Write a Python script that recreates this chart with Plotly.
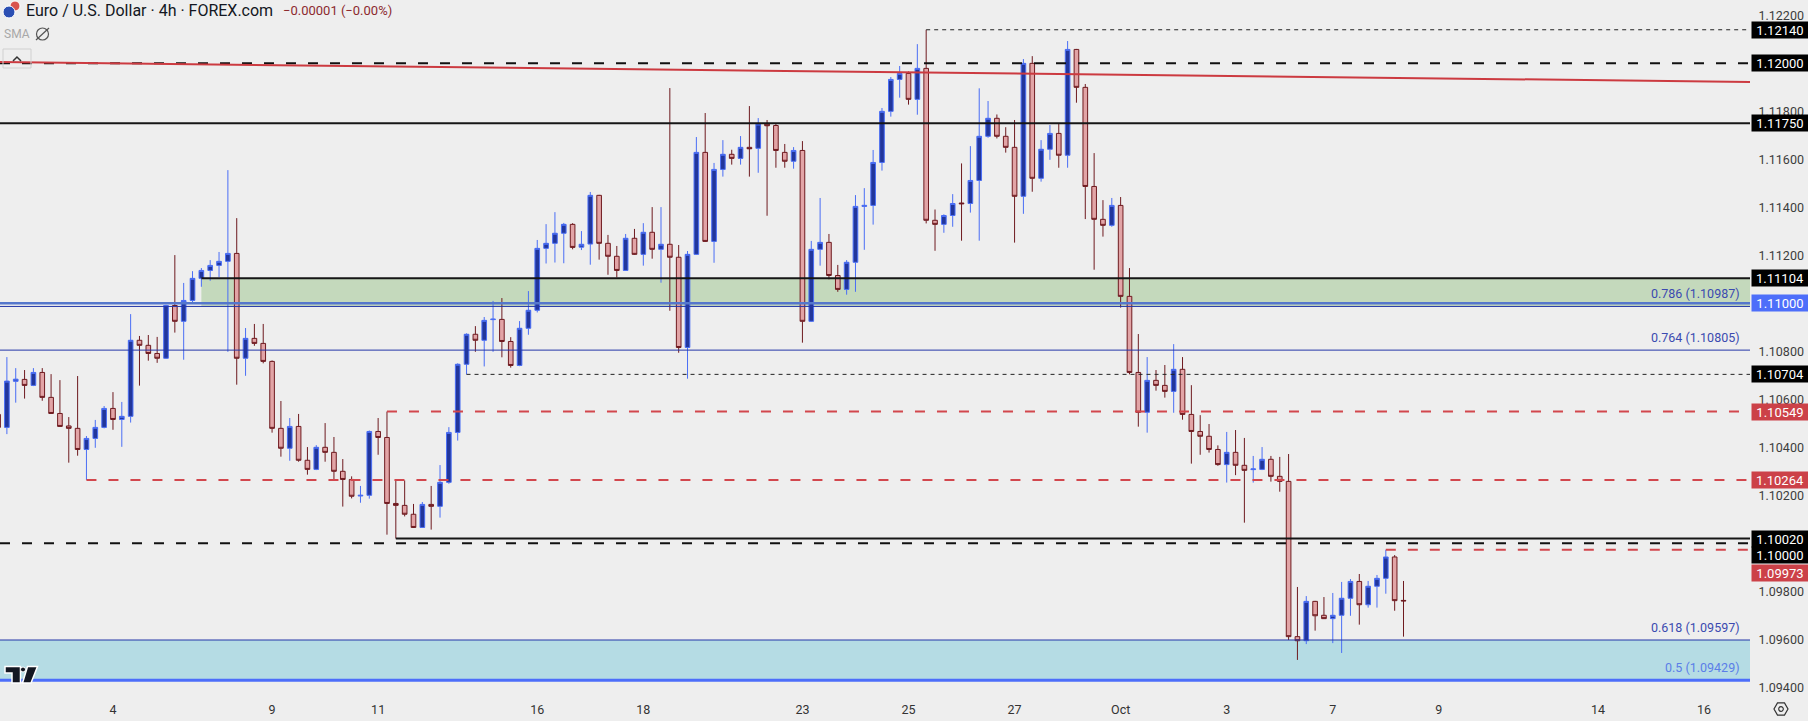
import numpy as np
import pandas as pd
import plotly.graph_objects as go

# EUR/USD 4h (FOREX.com). first value = last bar of Fri Aug 30, then Mon Sep 2 00:00 onward
opens = [1.10537, 1.10483, 1.10675, 1.10683, 1.10658, 1.10712, 1.10608, 1.10541, 1.10489, 1.10479,
         1.10391, 1.10437, 1.10483, 1.10562, 1.10516, 1.10529, 1.10846, 1.10825, 1.10791, 1.10771,
         1.10991, 1.10925, 1.11012, 1.11104, 1.11137, 1.11158, 1.11175, 1.11208, 1.10771, 1.10854,
         1.10833, 1.10758, 1.10479, 1.10396, 1.10487, 1.10346, 1.10308, 1.10400, 1.10379, 1.10300,
         1.10266, 1.10197, 1.10200, 1.10466, 1.10441, 1.10166, 1.10158, 1.10121, 1.10066, 1.10162,
         1.10154, 1.10254, 1.10462, 1.10746, 1.10871, 1.10846, 1.10932, 1.10933, 1.10841, 1.10741,
         1.10896, 1.10971, 1.11229, 1.11250, 1.11292, 1.11329, 1.11234, 1.11247, 1.11450, 1.11250,
         1.11196, 1.11137, 1.11271, 1.11204, 1.11296, 1.11225, 1.11246, 1.11192, 1.10816, 1.11204,
         1.11629, 1.11258, 1.11558, 1.11621, 1.11604, 1.11650, 1.11646, 1.11747, 1.11741, 1.11629,
         1.11592, 1.11637, 1.10925, 1.11225, 1.11254, 1.11116, 1.11058, 1.11171, 1.11404, 1.11408,
         1.11587, 1.11800, 1.11933, 1.11958, 1.11850, 1.11979, 1.11346, 1.11329, 1.11366, 1.11418,
         1.11416, 1.11512, 1.11696, 1.11771, 1.11696, 1.11650, 1.11446, 1.12000, 1.11521, 1.11642,
         1.11708, 1.11617, 1.12058, 1.11900, 1.11487, 1.11350, 1.11325, 1.11408, 1.11029, 1.10712,
         1.10546, 1.10679, 1.10658, 1.10633, 1.10725, 1.10537, 1.10466, 1.10446, 1.10391, 1.10328,
         1.10379, 1.10325, 1.10307, 1.10308, 1.10350, 1.10279, 1.10258, 1.09611, 1.09594, 1.09758,
         1.09700, 1.09686, 1.09700, 1.09771, 1.09841, 1.09744, 1.09821, 1.09854, 1.09943, 1.09762]
highs = [1.10556, 1.10776, 1.10730, 1.10722, 1.10730, 1.10730, 1.10705, 1.10680, 1.10526, 1.10697,
         1.10447, 1.10514, 1.10572, 1.10630, 1.10589, 1.10955, 1.10864, 1.10868, 1.10860, 1.10994,
         1.11201, 1.11085, 1.11134, 1.11147, 1.11180, 1.11214, 1.11555, 1.11355, 1.10897, 1.10914,
         1.10914, 1.10762, 1.10593, 1.10522, 1.10539, 1.10401, 1.10409, 1.10501, 1.10443, 1.10351,
         1.10279, 1.10239, 1.10470, 1.10522, 1.10549, 1.10262, 1.10262, 1.10164, 1.10172, 1.10239,
         1.10326, 1.10484, 1.10750, 1.10875, 1.10905, 1.10943, 1.11010, 1.11022, 1.10859, 1.10926,
         1.11051, 1.11264, 1.11330, 1.11380, 1.11335, 1.11334, 1.11301, 1.11464, 1.11452, 1.11285,
         1.11239, 1.11289, 1.11310, 1.11334, 1.11401, 1.11401, 1.11897, 1.11243, 1.11218, 1.11693,
         1.11793, 1.11585, 1.11680, 1.11640, 1.11697, 1.11822, 1.11772, 1.11764, 1.11750, 1.11664,
         1.11651, 1.11676, 1.11260, 1.11439, 1.11289, 1.11160, 1.11180, 1.11451, 1.11480, 1.11639,
         1.11814, 1.11943, 1.11989, 1.11966, 1.12080, 1.12140, 1.11391, 1.11371, 1.11455, 1.11583,
         1.11655, 1.11896, 1.11843, 1.11787, 1.11734, 1.11764, 1.12018, 1.12030, 1.11680, 1.11743,
         1.11750, 1.12093, 1.12060, 1.11914, 1.11626, 1.11430, 1.11439, 1.11443, 1.11147, 1.10872,
         1.10776, 1.10722, 1.10743, 1.10830, 1.10776, 1.10659, 1.10534, 1.10497, 1.10408, 1.10464,
         1.10472, 1.10439, 1.10364, 1.10401, 1.10364, 1.10360, 1.10372, 1.09818, 1.09780, 1.09760,
         1.09776, 1.09793, 1.09839, 1.09851, 1.09872, 1.09843, 1.09868, 1.09973, 1.09951, 1.09843]
lows = [1.10472, 1.10455, 1.10586, 1.10603, 1.10655, 1.10594, 1.10539, 1.10485, 1.10336, 1.10365,
        1.10264, 1.10398, 1.10479, 1.10473, 1.10402, 1.10503, 1.10657, 1.10761, 1.10752, 1.10768,
        1.10878, 1.10765, 1.11004, 1.11069, 1.11094, 1.11109, 1.10798, 1.10661, 1.10698, 1.10823,
        1.10750, 1.10461, 1.10361, 1.10344, 1.10340, 1.10286, 1.10305, 1.10340, 1.10266, 1.10153,
        1.10187, 1.10169, 1.10186, 1.10369, 1.10036, 1.10020, 1.10112, 1.10064, 1.10064, 1.10057,
        1.10107, 1.10248, 1.10428, 1.10704, 1.10798, 1.10737, 1.10798, 1.10775, 1.10732, 1.10738,
        1.10869, 1.10962, 1.11166, 1.11170, 1.11167, 1.11225, 1.11222, 1.11161, 1.11182, 1.11119,
        1.11108, 1.11135, 1.11202, 1.11157, 1.11186, 1.11086, 1.10969, 1.10794, 1.10686, 1.11202,
        1.11256, 1.11169, 1.11528, 1.11578, 1.11578, 1.11528, 1.11544, 1.11365, 1.11565, 1.11565,
        1.11561, 1.10836, 1.10923, 1.11157, 1.11100, 1.11048, 1.11036, 1.11048, 1.11223, 1.11328,
        1.11553, 1.11778, 1.11857, 1.11828, 1.11786, 1.11333, 1.11219, 1.11294, 1.11319, 1.11261,
        1.11378, 1.11261, 1.11690, 1.11687, 1.11628, 1.11253, 1.11373, 1.11465, 1.11507, 1.11598,
        1.11565, 1.11565, 1.11836, 1.11351, 1.11140, 1.11278, 1.11319, 1.10982, 1.10704, 1.10486,
        1.10461, 1.10636, 1.10607, 1.10544, 1.10515, 1.10332, 1.10369, 1.10378, 1.10323, 1.10253,
        1.10284, 1.10086, 1.10253, 1.10305, 1.10257, 1.10215, 1.09597, 1.09514, 1.09580, 1.09636,
        1.09685, 1.09584, 1.09543, 1.09698, 1.09661, 1.09732, 1.09732, 1.09790, 1.09719, 1.09611]
closes = [1.10483, 1.10676, 1.10684, 1.10658, 1.10712, 1.10608, 1.10541, 1.10487, 1.10479, 1.10391,
          1.10437, 1.10483, 1.10562, 1.10516, 1.10529, 1.10846, 1.10825, 1.10791, 1.10771, 1.10991,
          1.10925, 1.11012, 1.11104, 1.11137, 1.11158, 1.11175, 1.11208, 1.10771, 1.10854, 1.10833,
          1.10758, 1.10479, 1.10396, 1.10487, 1.10346, 1.10308, 1.10400, 1.10379, 1.10300, 1.10266,
          1.10196, 1.10200, 1.10466, 1.10441, 1.10166, 1.10158, 1.10121, 1.10066, 1.10162, 1.10154,
          1.10254, 1.10462, 1.10746, 1.10871, 1.10846, 1.10929, 1.10934, 1.10841, 1.10741, 1.10896,
          1.10971, 1.11229, 1.11250, 1.11292, 1.11329, 1.11233, 1.11246, 1.11450, 1.11250, 1.11196,
          1.11137, 1.11271, 1.11204, 1.11296, 1.11225, 1.11246, 1.11192, 1.10816, 1.11204, 1.11629,
          1.11258, 1.11558, 1.11621, 1.11604, 1.11650, 1.11644, 1.11747, 1.11740, 1.11637, 1.11592,
          1.11637, 1.10925, 1.11225, 1.11254, 1.11116, 1.11058, 1.11171, 1.11404, 1.11408, 1.11587,
          1.11800, 1.11933, 1.11958, 1.11850, 1.11979, 1.11346, 1.11329, 1.11366, 1.11416, 1.11415,
          1.11512, 1.11696, 1.11771, 1.11696, 1.11650, 1.11446, 1.12000, 1.11521, 1.11642, 1.11708,
          1.11617, 1.12058, 1.11900, 1.11487, 1.11350, 1.11325, 1.11408, 1.11029, 1.10712, 1.10546,
          1.10679, 1.10658, 1.10633, 1.10725, 1.10537, 1.10466, 1.10446, 1.10391, 1.10328, 1.10379,
          1.10325, 1.10304, 1.10310, 1.10350, 1.10279, 1.10258, 1.09611, 1.09594, 1.09758, 1.09698,
          1.09686, 1.09700, 1.09771, 1.09841, 1.09744, 1.09821, 1.09854, 1.09943, 1.09761, 1.09760]

# horizontal levels drawn on the chart; start = bar the drawing is anchored on (None = whole width)
level_prices = [1.12140, 1.12000, 1.11750, 1.11104, 1.11000, 1.10704, 1.10549, 1.10264, 1.10020, 1.10000, 1.09973]
level_start = [104, None, None, 22, None, 52, 43, 9, 44, None, 156]
level_kind = ["thin", "dash", "solid", "solid", "blue", "thin", "red", "red", "solid", "dash", "red"]

# fibonacci retracement levels
fib_ratios = ["0.786", "0.764", "0.618", "0.5"]
fib_prices = [1.10987, 1.10805, 1.09597, 1.09429]

# descending trendline anchors (bar, price)
trend_bars = [0, 158]
trend_prices = [1.12005, 1.11939]

tick_dates = ["2024-09-04", "2024-09-09", "2024-09-11", "2024-09-16", "2024-09-18", "2024-09-23", "2024-09-25",
              "2024-09-27", "2024-10-01", "2024-10-03", "2024-10-07", "2024-10-09", "2024-10-14", "2024-10-16"]
tick_text = ["4", "9", "11", "16", "18", "23", "25", "27", "Oct", "3", "7", "9", "14", "16"]

# 4h bars on weekdays only (no weekend gaps on the axis)
days = pd.bdate_range("2024-09-02", "2024-10-18")
bar_times = [d + pd.Timedelta(hours=4 * k) for d in days for k in range(6)]
tick_pos = [bar_times.index(pd.Timestamp(d)) for d in tick_dates]
xs = list(range(-1, len(opens) - 1))

X_LO, X_HI = -0.78, 197.2
Y_LO, Y_HI = 1.09372, 1.12264
W, H = 1808, 721
PW, PH = 1750, 694  # plot area in px
FONT = "Roboto"
BG = "#eeeeee"


def pp(x, y):
    # pixel -> paper coords
    return x / PW, 1 - y / PH


fig = go.Figure()
fig.add_trace(go.Candlestick(
    x=xs, open=opens, high=highs, low=lows, close=closes,
    increasing=dict(fillcolor="#22369b", line=dict(color="#4a6ef5", width=1)),
    decreasing=dict(fillcolor="#e2a4a6", line=dict(color="#6e1a1f", width=1)),
    whiskerwidth=0, hoverinfo="skip", showlegend=False,
))

shapes = []
# zones
shapes.append(dict(type="rect", xref="x", yref="y", x0=22, x1=X_HI, y0=fib_prices[0], y1=1.11104,
                   fillcolor="#c4d9bc", line=dict(width=0), layer="below"))
shapes.append(dict(type="rect", xref="x", yref="y", x0=X_LO, x1=X_HI, y0=fib_prices[3], y1=fib_prices[2],
                   fillcolor="#b5dce4", line=dict(width=0), layer="below"))

styles = {
    "thin": dict(color="#222222", width=1, dash="4px,4px"),
    "dash": dict(color="#111111", width=2, dash="10px,12px"),
    "solid": dict(color="#161616", width=2),
    "blue": dict(color="#5577cc", width=2.5),
    "red": dict(color="#d2474d", width=2, dash="10px,12px"),
}
for p, s, k in zip(level_prices, level_start, level_kind):
    x0 = X_LO if s is None else s
    shapes.append(dict(type="line", xref="x", yref="y", x0=x0, x1=X_HI, y0=p, y1=p, line=styles[k], layer="above"))

fib_line = [dict(color="#2437a8", width=1), dict(color="#2437a8", width=1),
            dict(color="#2437a8", width=1), dict(color="#4d6efa", width=3)]
for p, ln in zip(fib_prices, fib_line):
    shapes.append(dict(type="line", xref="x", yref="y", x0=X_LO, x1=X_HI, y0=p, y1=p, line=ln, layer="above"))

# trendline, extended across the visible range
slope = (trend_prices[1] - trend_prices[0]) / (trend_bars[1] - trend_bars[0])
ty = [trend_prices[0] + slope * (x - trend_bars[0]) for x in (X_LO, X_HI)]
shapes.append(dict(type="line", xref="x", yref="y", x0=X_LO, x1=X_HI, y0=ty[0], y1=ty[1],
                   line=dict(color="#cc3a40", width=2), layer="above"))

# little icons (header, logo, settings)
def circ(cx, cy, r, fill, line="white", lw=1):
    a, b = pp(cx - r, cy - r)
    c, d = pp(cx + r, cy + r)
    return dict(type="circle", xref="paper", yref="paper", x0=a, x1=c, y0=d, y1=b,
                fillcolor=fill, line=dict(color=line, width=lw), layer="above")


def path(pts, fill, line, lw):
    s = "M " + " L ".join("%.5f,%.5f" % pp(x, y) for x, y in pts) + " Z"
    return dict(type="path", xref="paper", yref="paper", path=s, fillcolor=fill,
                line=dict(color=line, width=lw), layer="above")


shapes.append(circ(15, 6, 5, "#d9534f"))
shapes.append(circ(9, 12, 6, "#2b4fb3"))
shapes.append(circ(42.5, 34, 6, "rgba(0,0,0,0)", "#555555", 1.2))
a, b = pp(36, 40); c, d = pp(49, 28)
shapes.append(dict(type="line", xref="paper", yref="paper", x0=a, y0=b, x1=c, y1=d,
                   line=dict(color="#555555", width=1.2)))
a, b = pp(3, 49); c, d = pp(31, 68)
shapes.append(dict(type="rect", xref="paper", yref="paper", x0=a, x1=c, y0=d, y1=b,
                   line=dict(color="#d0d0d0", width=1), fillcolor="rgba(0,0,0,0)"))
shapes.append(dict(type="path", xref="paper", yref="paper",
                   path="M %.5f,%.5f L %.5f,%.5f L %.5f,%.5f" % (*pp(13, 61), *pp(17, 57), *pp(21, 61)),
                   line=dict(color="#333333", width=1.5)))
shapes.append(path([(5, 666.5), (20.5, 666.5), (20.5, 683), (12, 683), (12, 673), (5, 673)], "#131722", "white", 1.5))
shapes.append(circ(23, 669.5, 2.5, "#131722", "white", 1))
shapes.append(path([(27.5, 666.5), (37.5, 666.5), (31, 683), (22.5, 683)], "#131722", "white", 1.5))
# settings gear bottom right
hexa = [(1781 + 7 * np.cos(np.pi / 3 * i), 709 + 7 * np.sin(np.pi / 3 * i)) for i in range(6)]
shapes.append(path(hexa, "rgba(0,0,0,0)", "#333333", 1.2))
shapes.append(circ(1781, 709, 2.3, "rgba(0,0,0,0)", "#333333", 1.2))

annotations = []
# price boxes on the right scale
box_colors = {"red": "#cc4148", "blue": "#4d6efa"}
box_shift = {1.10000: -12, 1.09973: -23}
for p, k in zip(level_prices, level_kind):
    annotations.append(dict(
        xref="paper", yref="y", x=1, y=p, xanchor="left", yanchor="middle", xshift=1,
        yshift=box_shift.get(p, 0), text="%.5f" % p, showarrow=False,
        font=dict(family=FONT, size=13, color="white"), bgcolor=box_colors.get(k, "#000000"),
        width=54, height=14, borderpad=1, align="center"))

fib_colors = ["#3b4ab0", "#3b4ab0", "#3b4ab0", "#5b7ee8"]
for r, p, col in zip(fib_ratios, fib_prices, fib_colors):
    annotations.append(dict(
        xref="paper", yref="y", x=1, y=p, xanchor="right", yanchor="bottom", xshift=-8, yshift=3,
        text="%s (%.5f)" % (r, p), showarrow=False, font=dict(family=FONT, size=12.5, color=col)))

hx, hy = pp(24, 11)
annotations.append(dict(xref="paper", yref="paper", x=hx, y=hy, xanchor="left", yanchor="middle",
                        text="Euro / U.S. Dollar · 4h · FOREX.com", showarrow=False,
                        font=dict(family=FONT, size=16, color="#131722")))
hx, hy = pp(281, 11)
annotations.append(dict(xref="paper", yref="paper", x=hx, y=hy, xanchor="left", yanchor="middle",
                        text="−0.00001 (−0.00%)", showarrow=False,
                        font=dict(family=FONT, size=13, color="#8c2a2e")))
hx, hy = pp(2, 34)
annotations.append(dict(xref="paper", yref="paper", x=hx, y=hy, xanchor="left", yanchor="middle",
                        text="SMA", showarrow=False, font=dict(family=FONT, size=12, color="#a8a8a8")))

fig.update_layout(
    width=W, height=H,
    margin=dict(l=0, r=W - PW, t=0, b=H - PH),
    paper_bgcolor=BG, plot_bgcolor=BG,
    shapes=shapes, annotations=annotations,
    boxgap=0.25,
    xaxis=dict(range=[X_LO, X_HI], tickvals=tick_pos, ticktext=tick_text, showgrid=False,
               zeroline=False, showline=False, ticks="outside", ticklen=4, tickcolor="rgba(0,0,0,0)",
               tickfont=dict(family=FONT, size=12.5, color="#333333"), rangeslider=dict(visible=False),
               fixedrange=True),
    yaxis=dict(range=[Y_LO, Y_HI], side="right", dtick=0.002, tick0=1.094, tickformat=".5f",
               showgrid=False, zeroline=False, showline=False, ticks="outside", ticklen=5,
               tickcolor="rgba(0,0,0,0)", tickfont=dict(family=FONT, size=12.5, color="#3d3d3d")),
    showlegend=False,
)

# page body has a default margin; drop it so the figure fills the window exactly
fig.write_html("out.html", config={"displayModeBar": False},
               post_script="document.body.style.margin='0';document.body.style.background='%s';" % BG)
